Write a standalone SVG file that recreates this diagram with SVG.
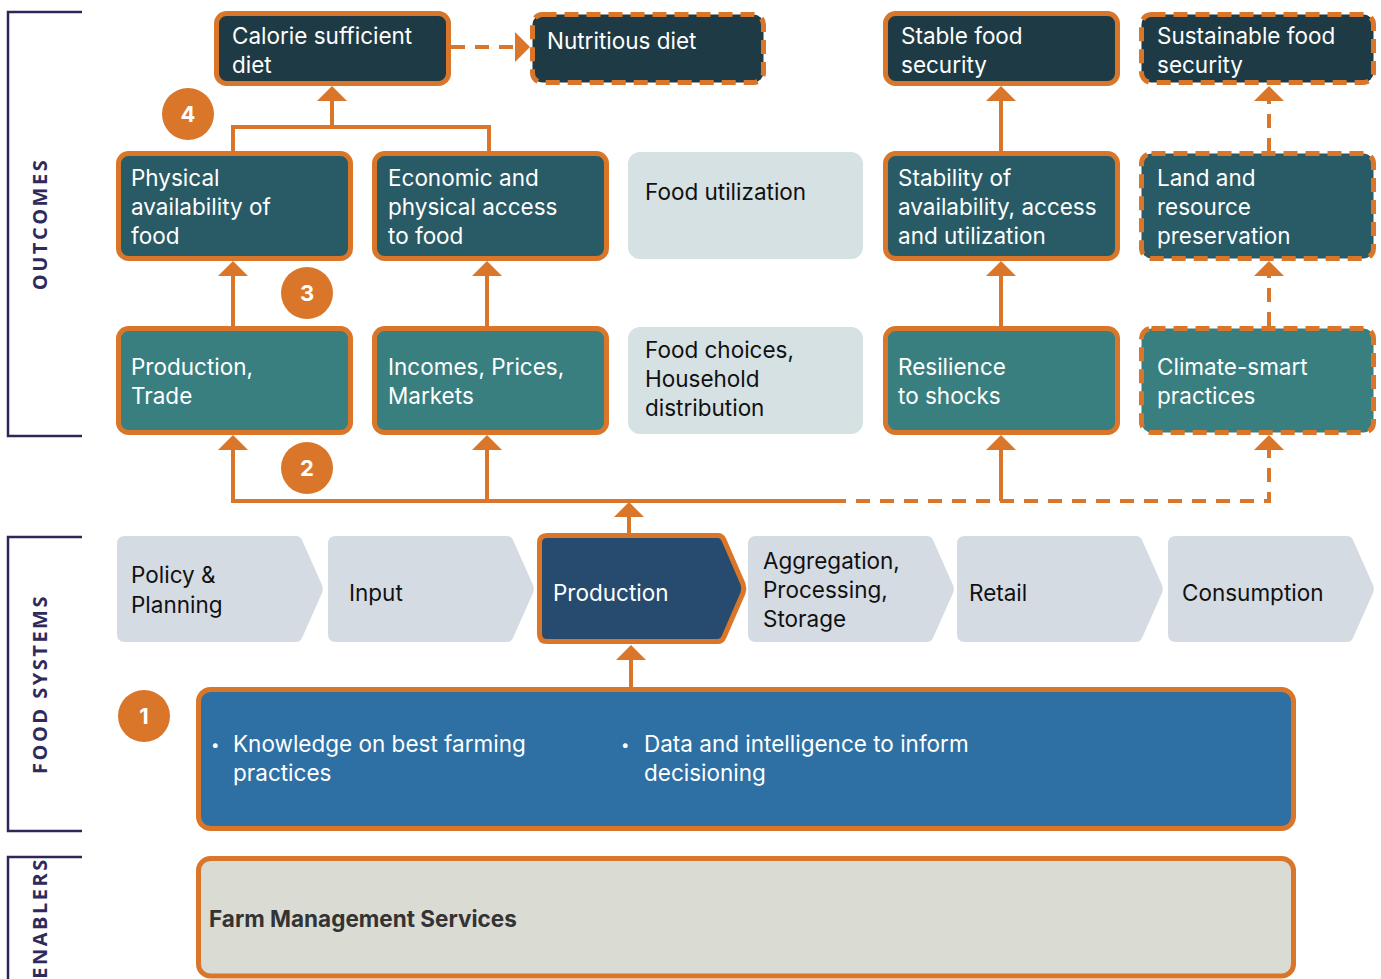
<svg xmlns="http://www.w3.org/2000/svg" width="1381" height="979" viewBox="0 0 1381 979">
<style>
.nd{stroke:#d97629;stroke-width:5}
.dash{stroke-dasharray:14 8}
.top{fill:#1e3b45}
.mid{fill:#285b66}
.low{fill:#3a7f80}
.lt{fill:#d5e1e3}
.chev{fill:#d5dbe3}
.t{font-family:Inter,"Liberation Sans",sans-serif;font-size:22.5px}
.w{fill:#ffffff}
.k{fill:#111111}
.cn{fill:none;stroke:#d97629;stroke-width:4}
.cd{stroke-dasharray:14 10}
.br{fill:none;stroke:#2f2557;stroke-width:2.5}
.lab{font-family:"Open Sans","Liberation Sans",sans-serif;font-weight:700;font-size:20px;letter-spacing:2.5px;fill:#2f2a5c}
.bd{fill:#d97629}
.bt{font-family:Inter,"Liberation Sans",sans-serif;font-weight:700;font-size:22px;fill:#ffffff;text-anchor:middle}
.bu{font-family:Inter,"Liberation Sans",sans-serif;font-size:15px;fill:#ffffff}
</style>
<defs>
<marker id="au" markerUnits="userSpaceOnUse" markerWidth="15" markerHeight="30" refX="0" refY="15" orient="auto" viewBox="0 0 15 30">
<path d="M0,0 L15,15 L0,30 Z" fill="#d97629"/>
</marker>
<path id="chv" d="M8,0 H179 Q183,0 185,4 L205,49 Q206.5,53 205,57 L185,102 Q183,106 179,106 H8 Q0,106 0,98 V8 Q0,0 8,0 Z"/>
</defs>

<g id="brackets">
<path class="br" d="M82,12 H8 V436 H82"/>
<path class="br" d="M82,537 H8 V831 H82"/>
<path class="br" d="M82,857 H8 V985"/>
<text class="lab" transform="translate(47,224) rotate(-90)" text-anchor="middle">OUTCOMES</text>
<text class="lab" transform="translate(47,684) rotate(-90)" text-anchor="middle">FOOD SYSTEMS</text>
<text class="lab" transform="translate(47,918) rotate(-90)" text-anchor="middle" font-size="19" letter-spacing="1.8">ENABLERS</text>
</g>

<g id="connectors">
<path class="cn cd" d="M451,47 H515" marker-end="url(#au)"/>
<path class="cn" d="M233,151 V127 H489 V151"/>
<path class="cn" d="M332,127 V101" marker-end="url(#au)"/>
<path class="cn" d="M233,326 V276" marker-end="url(#au)"/>
<path class="cn" d="M487,326 V276" marker-end="url(#au)"/>
<path class="cn" d="M1001,151 V101" marker-end="url(#au)"/>
<path class="cn" d="M1001,326 V276" marker-end="url(#au)"/>
<path class="cn cd" d="M1269,152 V101" marker-end="url(#au)"/>
<path class="cn cd" d="M1269,326 V276" marker-end="url(#au)"/>
<path class="cn" d="M832,501 H233 V450" marker-end="url(#au)"/>
<path class="cn" d="M487,501 V450" marker-end="url(#au)"/>
<path class="cn cd" d="M832,501 H1269 V450" marker-end="url(#au)"/>
<path class="cn" d="M1001,501 V450" marker-end="url(#au)"/>
<path class="cn" d="M629,533 V517" marker-end="url(#au)"/>
<path class="cn" d="M631,687 V660" marker-end="url(#au)"/>
</g>

<g id="calorie"><rect class="nd top" x="216.5" y="13.5" width="232" height="70" rx="10"/>
<text class="t w" x="232" y="44">Calorie sufficient</text><text class="t w" x="232" y="73">diet</text></g>
<g id="nutritious"><rect class="nd dash top" x="532.5" y="14.5" width="231" height="68" rx="10"/>
<text class="t w" x="547" y="49">Nutritious diet</text></g>
<g id="stable"><rect class="nd top" x="885.5" y="13.5" width="232" height="70" rx="10"/>
<text class="t w" x="901" y="44">Stable food</text><text class="t w" x="901" y="73">security</text></g>
<g id="sustainable"><rect class="nd dash top" x="1141.5" y="14.5" width="232" height="68" rx="10"/>
<text class="t w" x="1157" y="44">Sustainable food</text><text class="t w" x="1157" y="73">security</text></g>

<g id="physical"><rect class="nd mid" x="118.5" y="153.5" width="232" height="105" rx="10"/>
<text class="t w" x="131" y="186">Physical</text><text class="t w" x="131" y="215">availability of</text><text class="t w" x="131" y="244">food</text></g>
<g id="economic"><rect class="nd mid" x="374.5" y="153.5" width="232" height="105" rx="10"/>
<text class="t w" x="388" y="186">Economic and</text><text class="t w" x="388" y="215">physical access</text><text class="t w" x="388" y="244">to food</text></g>
<g id="utilization"><rect class="lt" x="628" y="152" width="235" height="107" rx="12"/>
<text class="t k" x="645" y="200">Food utilization</text></g>
<g id="stability"><rect class="nd mid" x="885.5" y="153.5" width="232" height="105" rx="10"/>
<text class="t w" x="898" y="186">Stability of</text><text class="t w" x="898" y="215">availability, access</text><text class="t w" x="898" y="244">and utilization</text></g>
<g id="land"><rect class="nd dash mid" x="1141.5" y="153.5" width="232" height="105" rx="10"/>
<text class="t w" x="1157" y="186">Land and</text><text class="t w" x="1157" y="215">resource</text><text class="t w" x="1157" y="244">preservation</text></g>

<g id="productiontrade"><rect class="nd low" x="118.5" y="328.5" width="232" height="104" rx="10"/>
<text class="t w" x="131" y="375">Production,</text><text class="t w" x="131" y="404">Trade</text></g>
<g id="incomes"><rect class="nd low" x="374.5" y="328.5" width="232" height="104" rx="10"/>
<text class="t w" x="388" y="375">Incomes, Prices,</text><text class="t w" x="388" y="404">Markets</text></g>
<g id="choices"><rect class="lt" x="628" y="327" width="235" height="107" rx="12"/>
<text class="t k" x="645" y="358">Food choices,</text><text class="t k" x="645" y="387">Household</text><text class="t k" x="645" y="416">distribution</text></g>
<g id="resilience"><rect class="nd low" x="885.5" y="328.5" width="232" height="104" rx="10"/>
<text class="t w" x="898" y="375">Resilience</text><text class="t w" x="898" y="404">to shocks</text></g>
<g id="climate"><rect class="nd dash low" x="1141.5" y="328.5" width="232" height="104" rx="10"/>
<text class="t w" x="1157" y="375">Climate-smart</text><text class="t w" x="1157" y="404">practices</text></g>

<g id="policy"><use href="#chv" class="chev" x="117" y="536"/>
<text class="t k" x="131" y="583">Policy &amp;</text><text class="t k" x="131" y="613">Planning</text></g>
<g id="input"><use href="#chv" class="chev" x="328" y="536"/>
<text class="t k" x="349" y="601">Input</text></g>
<g id="production"><path class="nd" fill="#264b6e" d="M547,535.5 H718 Q722,535.5 724,540 L743,584 Q744.5,588.5 743,593 L724,637 Q722,641.5 718,641.5 H547 Q539.5,641.5 539.5,634 V543 Q539.5,535.5 547,535.5 Z"/>
<text class="t w" x="553" y="601">Production</text></g>
<g id="aggregation"><use href="#chv" class="chev" x="748" y="536"/>
<text class="t k" x="763" y="569">Aggregation,</text><text class="t k" x="763" y="598">Processing,</text><text class="t k" x="763" y="627">Storage</text></g>
<g id="retail"><use href="#chv" class="chev" x="957" y="536"/>
<text class="t k" x="969" y="601">Retail</text></g>
<g id="consumption"><use href="#chv" class="chev" x="1168" y="536"/>
<text class="t k" x="1182" y="601">Consumption</text></g>

<g id="capabilities"><rect class="nd" fill="#2e70a4" x="198.5" y="689.5" width="1095" height="139" rx="12"/>
<text class="bu" x="211" y="750">•</text><text class="t w" x="233" y="752">Knowledge on best farming</text><text class="t w" x="233" y="781">practices</text>
<text class="bu" x="621" y="750">•</text><text class="t w" x="644" y="752">Data and intelligence to inform</text><text class="t w" x="644" y="781">decisioning</text></g>

<g id="enablers"><rect class="nd" fill="#dadbd3" x="198.5" y="858.5" width="1095" height="117.5" rx="12"/>
<text class="t" x="209" y="927" font-weight="700" fill="#333333">Farm Management Services</text></g>

<g id="badges">
<circle class="bd" cx="188" cy="114" r="26"/><text class="bt" x="188" y="122">4</text>
<circle class="bd" cx="307" cy="293" r="26"/><text class="bt" x="307" y="301">3</text>
<circle class="bd" cx="307" cy="468" r="26"/><text class="bt" x="307" y="476">2</text>
<circle class="bd" cx="144" cy="716" r="26"/><text class="bt" x="144" y="724">1</text>
</g>
</svg>
